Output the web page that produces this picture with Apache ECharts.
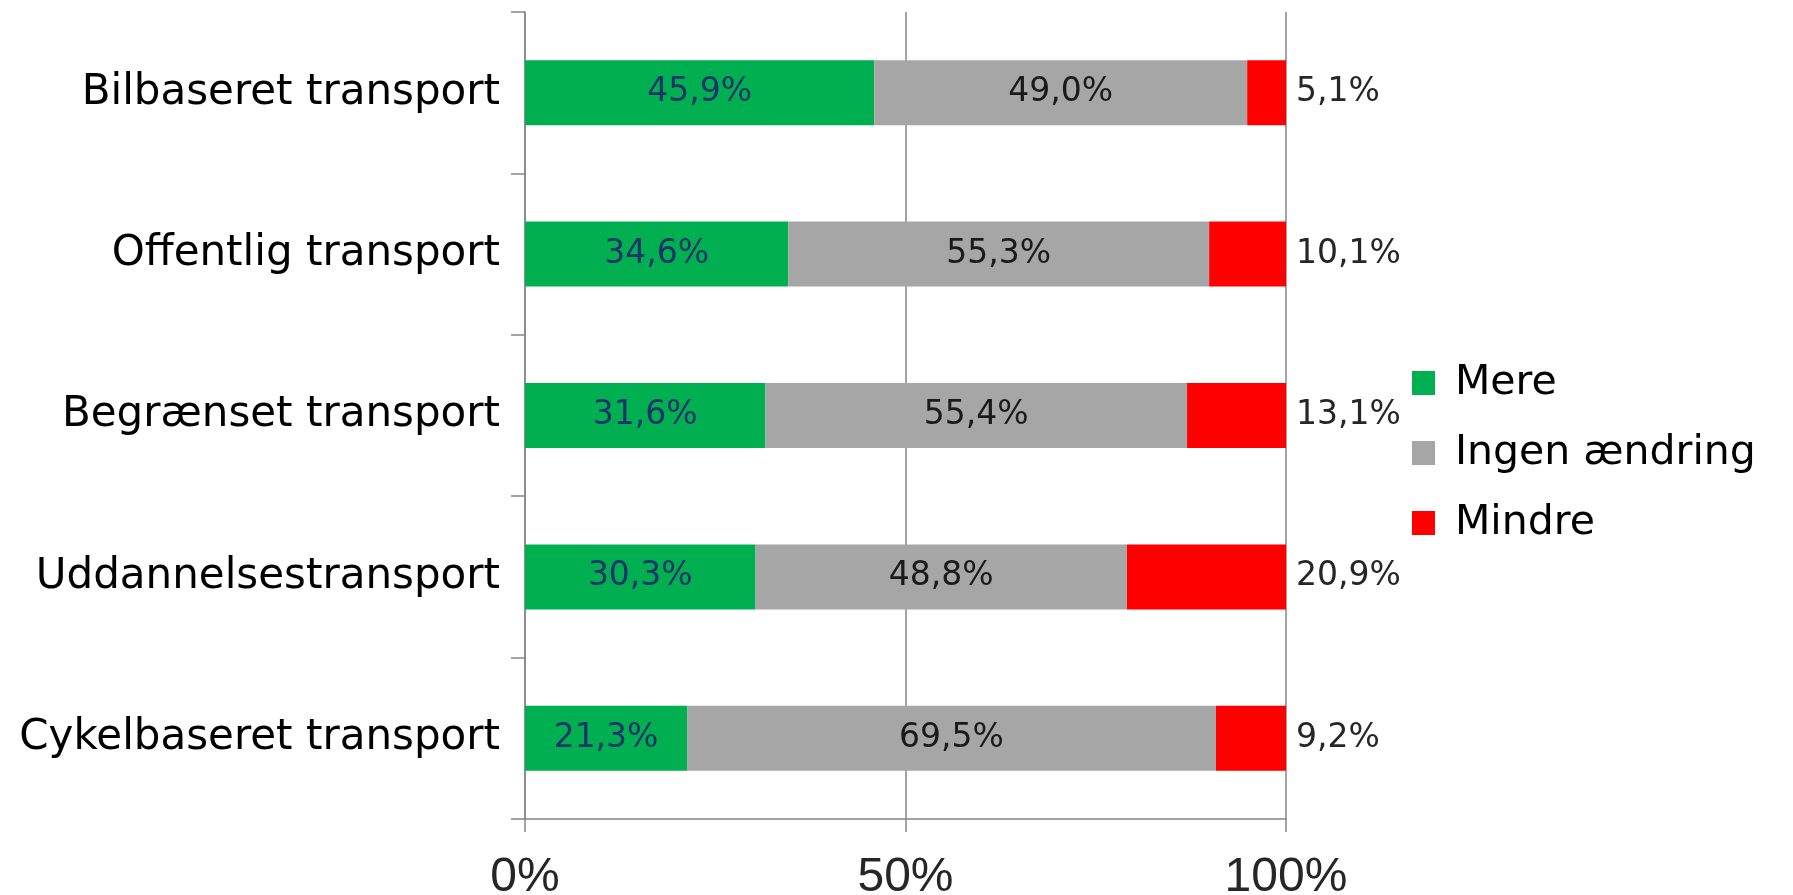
<!DOCTYPE html>
<html>
<head>
<meta charset="utf-8">
<script src="https://cdn.jsdelivr.net/npm/echarts@6/dist/echarts.min.js"></script>
<style>
  html, body { margin: 0; padding: 0; background: #fff; }
  #chart { width: 1793px; height: 895px; }
</style>
</head>
<body>
<div id="chart"></div>
<script>
const categories = [
  'Bilbaseret transport',
  'Offentlig transport',
  'Begrænset transport',
  'Uddannelsestransport',
  'Cykelbaseret transport'
]
const mere = [45.9, 34.6, 31.6, 30.3, 21.3]
const ingen = [49.0, 55.3, 55.4, 48.8, 69.5]
const mindre = [5.1, 10.1, 13.1, 20.9, 9.2]
const xTicks = [0, 50, 100]

const pct = v => v.toFixed(1).replace('.', ',') + '%'
const labelFont = { fontFamily: 'DejaVu Sans', fontSize: 33 }

const chart = echarts.init(document.getElementById('chart'))
chart.setOption({
  animation: false,
  grid: { left: 525, right: 507, top: 12, bottom: 76, outerBoundsMode: 'none', containLabel: false },
  legend: {
    orient: 'vertical',
    left: 1407,
    top: 354,
    icon: 'rect',
    itemWidth: 23,
    itemHeight: 24,
    itemGap: 22,
    textStyle: { fontFamily: 'DejaVu Sans', fontSize: 41, color: '#000', lineHeight: 48, padding: [0, 0, 0, 15] },
    data: ['Mere', 'Ingen ændring', 'Mindre']
  },
  xAxis: {
    type: 'value',
    min: xTicks[0],
    max: xTicks[xTicks.length - 1],
    interval: xTicks[1] - xTicks[0],
    axisLine: { show: true, lineStyle: { color: '#868686', width: 1.5 } },
    axisTick: { show: true, length: 13, lineStyle: { color: '#868686', width: 1.5 } },
    splitLine: { show: true, lineStyle: { color: '#868686', width: 1.5 } },
    axisLabel: {
      formatter: v => v + '%',
      fontFamily: 'Liberation Sans',
      fontSize: 48,
      color: '#262626',
      margin: 35
    }
  },
  yAxis: {
    type: 'category',
    inverse: true,
    data: categories,
    axisLine: { lineStyle: { color: '#868686', width: 1.5 } },
    axisTick: { show: true, length: 14, lineStyle: { color: '#868686', width: 1.5 } },
    axisLabel: { fontFamily: 'DejaVu Sans', fontSize: 42, color: '#000', margin: 25 }
  },
  series: [
    {
      name: 'Mere',
      type: 'bar',
      stack: 'total',
      barWidth: 65,
      data: mere,
      itemStyle: { color: '#00B050' },
      label: { show: true, position: 'inside', formatter: p => pct(p.value), color: '#1B3469', ...labelFont }
    },
    {
      name: 'Ingen ændring',
      type: 'bar',
      stack: 'total',
      data: ingen,
      itemStyle: { color: '#A6A6A6' },
      label: { show: true, position: 'inside', formatter: p => pct(p.value), color: '#1a1a1a', ...labelFont }
    },
    {
      name: 'Mindre',
      type: 'bar',
      stack: 'total',
      data: mindre,
      itemStyle: { color: '#FF0000' },
      label: { show: true, position: 'right', distance: 10, formatter: p => pct(p.value), color: '#262626', ...labelFont }
    }
  ]
})
window.addEventListener('resize', () => chart.resize())
</script>
</body>
</html>
